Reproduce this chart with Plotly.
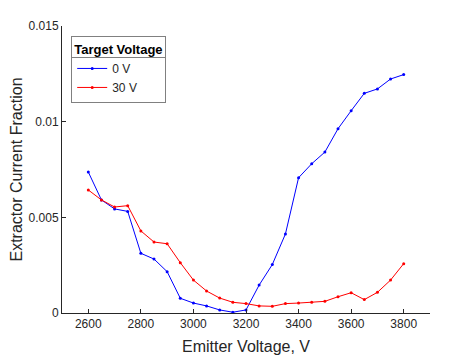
import plotly.graph_objects as go

emitter_voltage = [2600, 2650, 2700, 2750, 2800, 2850, 2900, 2950, 3000, 3050, 3100, 3150, 3200,
                   3250, 3300, 3350, 3400, 3450, 3500, 3550, 3600, 3650, 3700, 3750, 3800]
frac_0v = [0.00737, 0.00591, 0.00544, 0.00531, 0.00312, 0.00282, 0.00216, 0.00077, 0.00052, 0.00037,
           0.00016, 0.00004, 0.00016, 0.00146, 0.00253, 0.00413, 0.00707, 0.00780, 0.00841, 0.00963,
           0.01057, 0.01148, 0.01171, 0.01223, 0.01246]
frac_30v = [0.00643, 0.00591, 0.00554, 0.00561, 0.00429, 0.00371, 0.00362, 0.00263, 0.00172, 0.00115,
            0.00078, 0.00056, 0.00049, 0.00037, 0.00035, 0.00049, 0.00052, 0.00056, 0.00061, 0.00085,
            0.00106, 0.00070, 0.00108, 0.00172, 0.00258]
series_names = ["0 V", "30 V"]
x_ticks = [2600, 2800, 3000, 3200, 3400, 3600, 3800]
y_ticks = [0, 0.005, 0.01, 0.015]
y_tick_labels = ["0", "0.005", "0.01", "0.015"]

fig = go.Figure()
for name, vals, col in [(series_names[0], frac_0v, "#0000FF"), (series_names[1], frac_30v, "#FF0000")]:
    fig.add_trace(go.Scatter(x=emitter_voltage, y=vals, mode="lines+markers", name=name,
                             line=dict(color=col, width=1), marker=dict(color=col, size=3)))

# separator line under the legend title (MATLAB-style legend title box)
fig.add_shape(type="line", xref="paper", yref="paper",
              x0=(71.5 - 62) / 368, x1=(165 - 62) / 368,
              y0=(313 - 57.5) / 287, y1=(313 - 57.5) / 287,
              line=dict(color="#808080", width=1))

fig.update_layout(
    width=466, height=347,
    margin=dict(l=54, r=44, t=18, b=42, autoexpand=False),
    paper_bgcolor="white", plot_bgcolor="white",
    font=dict(family="Liberation Sans, Arial, sans-serif", color="#262626", size=12),
    showlegend=True,
    legend=dict(
        x=0.025, y=0.965, xanchor="left", yanchor="top",
        bordercolor="#808080", borderwidth=1, bgcolor="rgba(0,0,0,0)",
        title=dict(text="<b>Target Voltage</b>", font=dict(size=13, color="black"), side="top"),
        font=dict(size=12, color="#262626"),
        tracegroupgap=0, itemwidth=30,
    ),
    xaxis=dict(
        range=[2500, 3900], tickvals=x_ticks, showline=True, linecolor="#262626", linewidth=1,
        ticks="inside", ticklen=4, tickcolor="#262626", showgrid=False, zeroline=False,
        automargin=False,
        title=dict(text="Emitter Voltage, V", font=dict(size=16)),
        tickfont=dict(size=12),
    ),
    yaxis=dict(
        range=[0, 0.015], tickvals=y_ticks, ticktext=y_tick_labels, showline=True,
        linecolor="#262626", linewidth=1, ticks="inside", ticklen=4, tickcolor="#262626",
        showgrid=False, zeroline=False, automargin=False,
        title=dict(text="Extractor Current Fraction", font=dict(size=16)),
        tickfont=dict(size=12),
    ),
)

fig.write_html("out.html")
